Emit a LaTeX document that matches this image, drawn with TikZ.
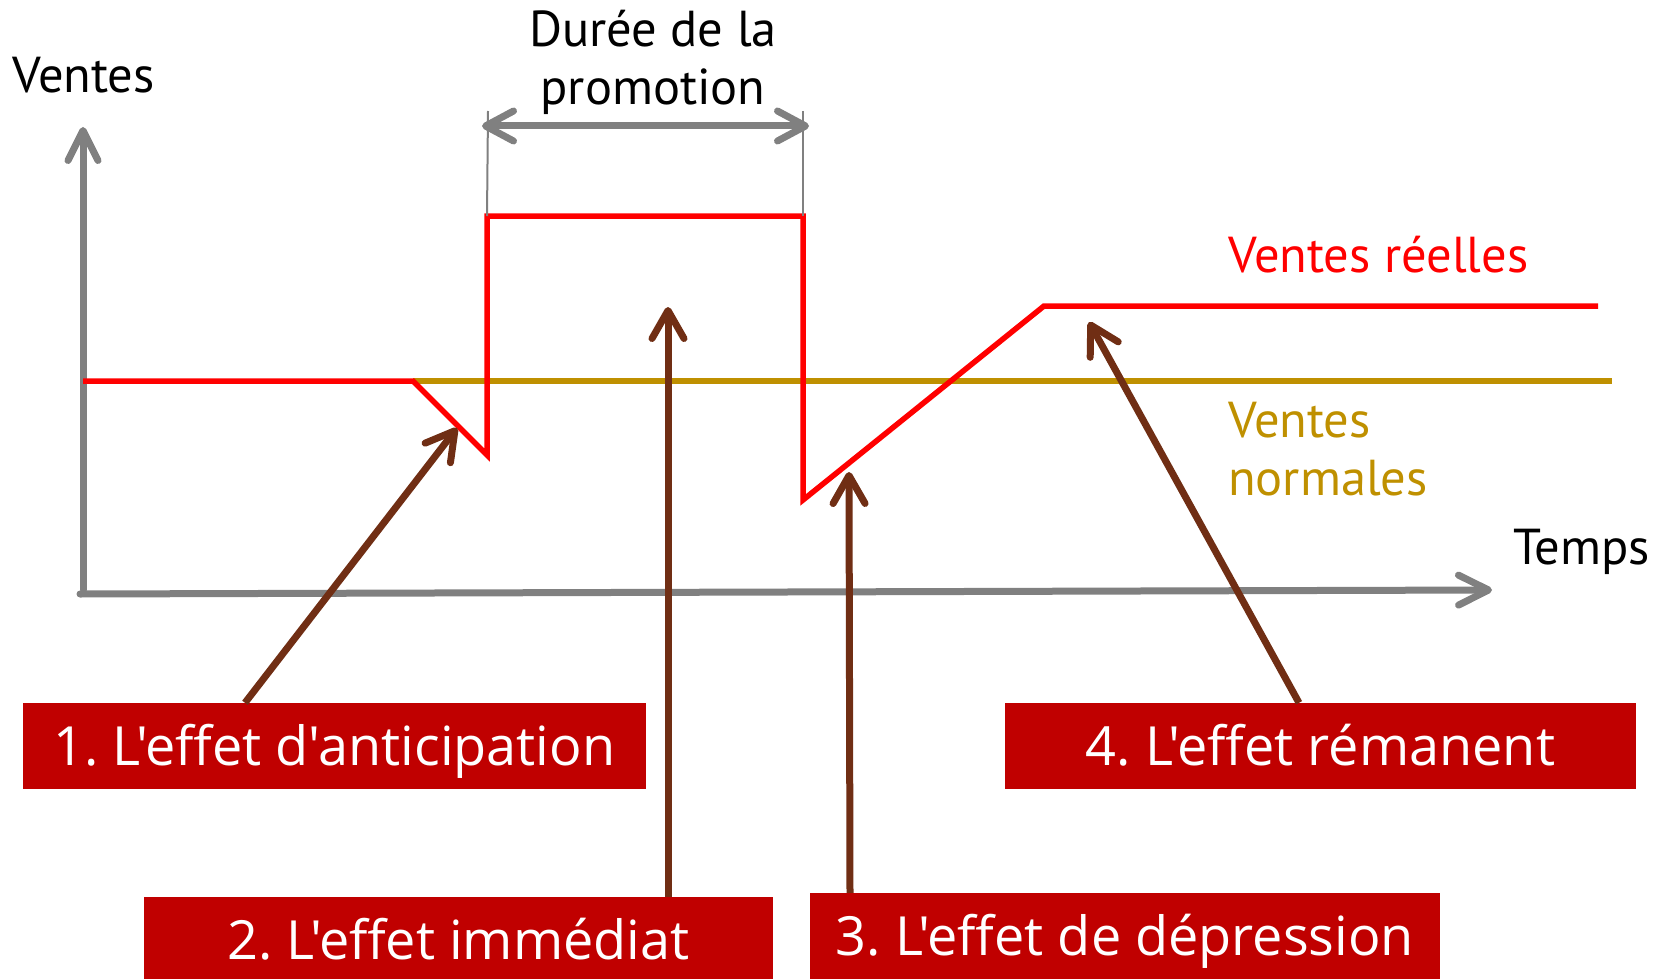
\documentclass[tikz,border=0pt]{standalone}
\usepackage{fontspec}
\setmainfont{PT Sans}
\newfontfamily\boxfont{Open Sans}
\usetikzlibrary{arrows.meta}
\frenchspacing
\definecolor{axisgray}{RGB}{128,128,128}
\definecolor{realred}{RGB}{255,0,0}
\definecolor{normolive}{RGB}{191,144,0}
\definecolor{boxred}{RGB}{192,0,0}
\definecolor{arrowbrown}{RGB}{112,46,20}
\tikzset{
  axisline/.style={draw=axisgray, line width=7pt, line cap=round,
    -{Straight Barb[length=30pt, width=30pt, line cap=round, line join=round]}},
  durarrow/.style={draw=axisgray, line width=7pt,
    {Straight Barb[length=28pt, width=30pt, line cap=round, line join=round]}-{Straight Barb[length=28pt, width=30pt, line cap=round, line join=round]}},
  thinline/.style={draw=axisgray, line width=2pt},
  realline/.style={draw=realred, line width=5.5pt, line join=miter},
  normline/.style={draw=normolive, line width=6pt},
  effarrow/.style={draw=arrowbrown, line width=7pt,
    -{Straight Barb[length=28pt, width=32pt, line cap=round, line join=round]}},
  effbox/.style={rectangle, fill=boxred, text=white, inner sep=0pt,
    minimum height=86pt, text height=38pt, text depth=0pt,
    font=\boxfont\fontsize{54}{62}\selectfont},
  lbl/.style={inner sep=0pt, font=\fontsize{50.5}{58}\selectfont},
}
\begin{document}
\begin{tikzpicture}[x=1pt, y=-1pt]
\useasboundingbox (0,0) rectangle (1655,979);
% axes
\coordinate (o) at (83,593);
\coordinate (ytip) at (83,127);
\coordinate (xtip) at (1492,590);
\draw[axisline] (83,590) -- (ytip);
\draw[axisline] (80,594) -- (xtip);
% normal sales
\coordinate (n0) at (413,381);
\coordinate (n1) at (1612,381);
\draw[normline] (n0) -- (n1);
% real sales
\coordinate (r0) at (83,381);
\coordinate (r1) at (413,381);
\coordinate (r2) at (487,455);
\coordinate (r3) at (487,216);
\coordinate (r4) at (803,216);
\coordinate (r5) at (803,500);
\coordinate (r6) at (1044,306);
\coordinate (r7) at (1598,306);
\draw[realline] (r0) -- (r1) -- (r2) -- (r3) -- (r4) -- (r5) -- (r6) -- (r7);
% promotion duration
\coordinate (t0) at (488,111);
\coordinate (t1) at (803,111);
\draw[thinline] (t0) -- (r3);
\draw[thinline] (t1) -- (r4);
\coordinate (d0) at (482,126);
\coordinate (d1) at (809,126);
\draw[durarrow] (d0) -- (d1);
% labels
\node[lbl, anchor=base west] (lv) at (12,93) {Ventes};
\node[lbl, anchor=base] (ld1) at (653,47) {Durée de la};
\node[lbl, anchor=base] (ld2) at (653,105) {promotion};
\node[lbl, anchor=base west, text=realred] (lr) at (1228,272) {Ventes réelles};
\node[lbl, anchor=base west, text=normolive] (ln1) at (1228,437) {Ventes};
\node[lbl, anchor=base west, text=normolive] (ln2) at (1228,495) {normales};
\node[lbl, anchor=base west] (lt) at (1513,564) {Temps};
% effect boxes
\node[effbox, minimum width=623pt] (b1) at (334.5,746) {1. L'effet d'anticipation};
\node[effbox, minimum width=629pt] (b2) at (458.5,940) {2. L'effet immédiat};
\node[effbox, minimum width=630pt] (b3) at (1125,936) {3. L'effet de dépression};
\node[effbox, minimum width=631pt] (b4) at (1320.5,746) {4. L'effet rémanent};
% effect arrows
\coordinate (e1) at (457,428);
\coordinate (e2) at (668,307);
\coordinate (e3) at (849,472);
\coordinate (e4) at (1089,322);
\draw[effarrow] ([xshift=-89.5pt]b1.north) -- (e1);
\draw[effarrow] ([xshift=209.5pt]b2.north) -- (e2);
\draw[effarrow] ([xshift=-275pt]b3.north) -- (e3);
\draw[effarrow] ([xshift=-21.5pt]b4.north) -- (e4);
\end{tikzpicture}
\end{document}
